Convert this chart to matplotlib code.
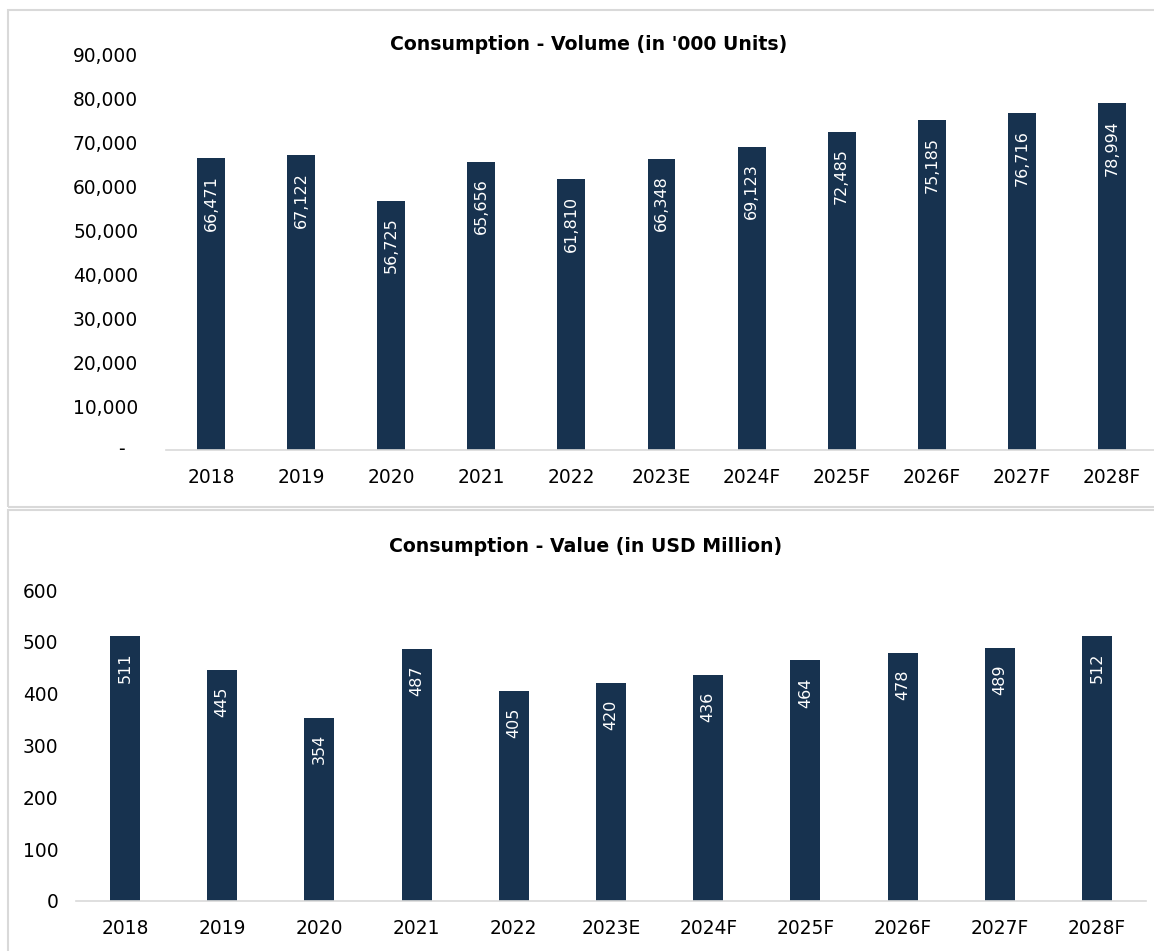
import matplotlib.pyplot as plt
from matplotlib.patches import Rectangle
from matplotlib.ticker import FuncFormatter, MultipleLocator

years = ['2018', '2019', '2020', '2021', '2022', '2023E', '2024F', '2025F', '2026F', '2027F', '2028F']
volume = [66471, 67122, 56725, 65656, 61810, 66348, 69123, 72485, 75185, 76716, 78994]
value = [511, 445, 354, 487, 405, 420, 436, 464, 478, 489, 512]

bar_color = '#17324f'
axis_color = '#d9d9d9'
plt.rcParams['font.family'] = ['DejaVu Sans']

fig = plt.figure(figsize=(11.54, 9.51), dpi=100)
fig.patch.set_facecolor('white')

# panel frames
W, H = 1154, 951
fig.add_artist(Rectangle((8 / W, 1 - 507 / H), 1.1, 497 / H, transform=fig.transFigure,
                         fill=False, edgecolor=axis_color, lw=1.5))
fig.add_artist(Rectangle((8 / W, -0.1), 1.1, 0.1 + 1 - 510 / H, transform=fig.transFigure,
                         fill=False, edgecolor=axis_color, lw=1.5))


def style_axis(ax, title, title_x, title_y):
    for s in ['top', 'right', 'left']:
        ax.spines[s].set_visible(False)
    ax.spines['bottom'].set_color(axis_color)
    ax.spines['bottom'].set_linewidth(1.2)
    ax.tick_params(axis='both', length=0, labelsize=13.4, colors='black')
    ax.tick_params(axis='x', pad=13)
    ax.set_xlim(-0.5, len(years) - 0.5)
    fig.text(title_x, title_y, title, ha='center', va='center', fontsize=13.6, fontweight='bold')


def label_bars(ax, vals, fmt):
    # value written vertically inside the top of each bar
    for i, v in enumerate(vals):
        ax.annotate(fmt(v), xy=(i, v), xytext=(0, -12), textcoords='offset points',
                    rotation=90, color='white', fontsize=11.5, ha='center', va='top')


# top: volume
ax1 = fig.add_axes([166 / W, 1 - 450 / H, (1157 - 166) / W, (450 - 55) / H])
ax1.bar(years, volume, width=0.31, color=bar_color)
ax1.set_ylim(0, 90000)
ax1.yaxis.set_major_locator(MultipleLocator(10000))
ax1.yaxis.set_major_formatter(FuncFormatter(lambda v, p: '' if v == 0 else f'{v:,.0f}'))
ax1.tick_params(axis='y', pad=20)
ax1.annotate('-', xy=(0, 0), xycoords=('axes fraction', 'data'), xytext=(-30, 0),
             textcoords='offset points', ha='right', va='center', fontsize=13.4)
style_axis(ax1, "Consumption - Volume (in '000 Units)", 589 / W, 1 - 45 / H)
label_bars(ax1, volume, lambda v: f'{v:,}')

# bottom: value
ax2 = fig.add_axes([76.4 / W, 1 - 901 / H, (1145.6 - 76.4) / W, (901 - 590) / H])
ax2.bar(years, value, width=0.31, color=bar_color)
ax2.set_ylim(0, 600)
ax2.yaxis.set_major_locator(MultipleLocator(100))
ax2.tick_params(axis='y', pad=13)
style_axis(ax2, 'Consumption - Value (in USD Million)', 586 / W, 1 - 546 / H)
label_bars(ax2, value, str)

fig.savefig('out.png', dpi=100, facecolor='white')
